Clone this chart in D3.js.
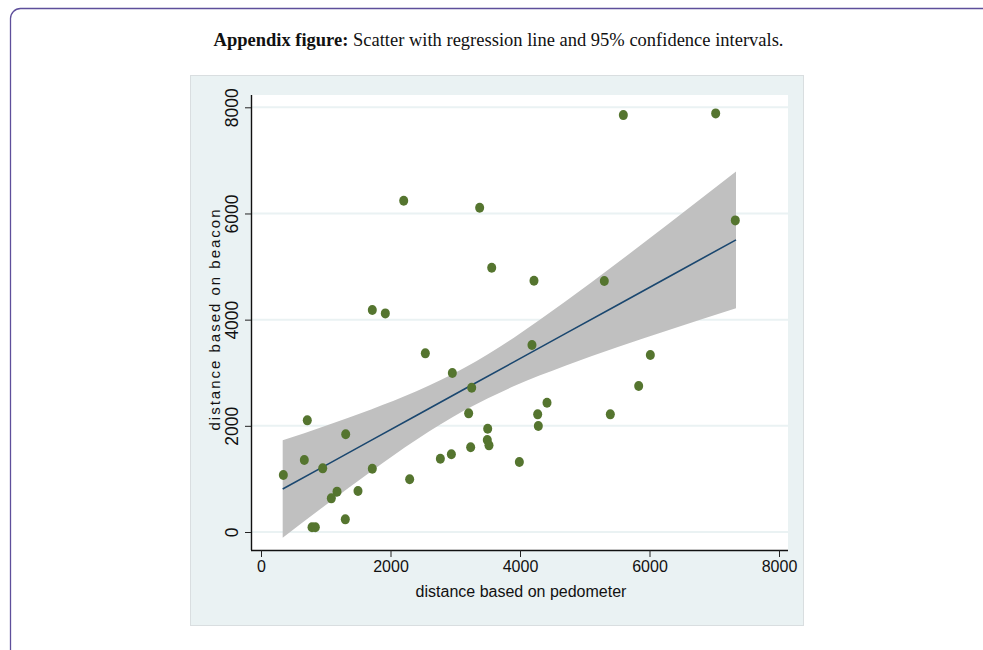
<!DOCTYPE html>
<html>
<head>
<meta charset="utf-8">
<script src="https://cdn.jsdelivr.net/npm/d3@7"></script>
<style>
  body { margin: 0; background: #fff; }
  svg { display: block; }
</style>
</head>
<body>
<div id="chart"></div>
<script>
// points (pedometer, beacon)
var pedometer = [2204, 3377, 3563, 1719, 1920, 5596, 7022, 7325, 4216, 5302,
                 4185, 2538, 2955, 3254, 3207, 3501, 3495, 3521, 3238, 2940,
                 2770, 2296, 1719, 1308, 715, 669, 345, 953, 1174, 1086,
                 1498, 1302, 788, 839, 6013, 5833, 4417, 4273, 5395, 4283, 3990];
var beacon    = [6239, 6107, 4977, 4181, 4118, 7853, 7885, 5870, 4733, 4727,
                 3522, 3365, 2994, 2718, 2235, 1946, 1733, 1632, 1595, 1463,
                 1381, 992, 1193, 1840, 2103, 1356, 1073, 1199, 760, 634,
                 772, 238, 88, 88, 3333, 2750, 2435, 2216, 2216, 1996, 1318];

// fitted line and 95% CI band
var fitX  = [335, 1000, 1700, 2400, 3150, 3900, 4700, 5500, 6300, 7336];
var fitY  = [810, 1255, 1725, 2194, 2697, 3200, 3736, 4272, 4809, 5503];
var fitLo = [-106, 509, 1141, 1737, 2297, 2744, 3132, 3478, 3806, 4216];
var fitHi = [1726, 2001, 2309, 2651, 3097, 3656, 4340, 5066, 5812, 6790];

var xTicks = [0, 2000, 4000, 6000, 8000];
var yTicks = [0, 2000, 4000, 6000, 8000];

var W = 983, H = 650;

var svg = d3.select("#chart").append("svg")
    .attr("width", W)
    .attr("height", H);

// page frame
svg.append("rect")
    .attr("x", 10.5).attr("y", 8.5)
    .attr("width", 1000).attr("height", 700)
    .attr("rx", 10)
    .attr("fill", "none")
    .attr("stroke", "#5e4f9b")
    .attr("stroke-width", 1.3);

// caption
var cap = svg.append("text")
    .attr("x", 498.5).attr("y", 46)
    .attr("text-anchor", "middle")
    .style("font-family", "'Liberation Serif', 'Times New Roman', serif")
    .style("font-size", "18.5px")
    .attr("fill", "#111");
cap.append("tspan").style("font-weight", "bold").text("Appendix figure:");
cap.append("tspan").text(" Scatter with regression line and 95% confidence intervals.");

// graph region
svg.append("rect")
    .attr("x", 190.5).attr("y", 75.5)
    .attr("width", 613).attr("height", 550)
    .attr("fill", "#eaf2f3")
    .attr("stroke", "#d9dee0");

var plot = {left: 251, right: 788, top: 95, bottom: 550};

svg.append("rect")
    .attr("x", plot.left).attr("y", plot.top)
    .attr("width", plot.right - plot.left).attr("height", plot.bottom - plot.top)
    .attr("fill", "#fff");

var x = d3.scaleLinear().domain([0, 8000]).range([261, 779]);
var y = d3.scaleLinear().domain([0, 8000]).range([532, 107.3]);

// gridlines
svg.append("g")
  .selectAll("line")
  .data(yTicks)
  .enter()
  .append("line")
    .attr("x1", plot.left).attr("x2", plot.right)
    .attr("y1", d => y(d)).attr("y2", d => y(d))
    .attr("stroke", "#eaf2f3")
    .attr("stroke-width", 2);

// CI band + fitted line
var fit = fitX.map((v, i) => ({x: v, y: fitY[i], lo: fitLo[i], hi: fitHi[i]}));

svg.append("path")
    .datum(fit)
    .attr("fill", "#c0c0c0")
    .attr("d", d3.area().curve(d3.curveMonotoneX)
        .x(d => x(d.x)).y0(d => y(d.lo)).y1(d => y(d.hi)));

svg.append("path")
    .datum(fit)
    .attr("fill", "none")
    .attr("stroke", "#1a476f")
    .attr("stroke-width", 1.6)
    .attr("d", d3.line().x(d => x(d.x)).y(d => y(d.y)));

// dots
var data = pedometer.map((p, i) => ({x: p, y: beacon[i]}));
svg.append("g")
  .selectAll("ellipse")
  .data(data)
  .enter()
  .append("ellipse")
    .attr("cx", d => x(d.x))
    .attr("cy", d => y(d.y))
    .attr("rx", 4.5)
    .attr("ry", 5)
    .attr("fill", "#55752f");

// axes
var xAxis = svg.append("g")
    .attr("transform", "translate(0," + plot.bottom + ")")
    .call(d3.axisBottom(x).tickValues(xTicks).tickFormat(d3.format("d"))
        .tickSize(7).tickPadding(4).tickSizeOuter(0));
xAxis.select(".domain").attr("d", "M" + plot.left + ",0.5H" + plot.right);
xAxis.selectAll("text")
    .style("font-family", "'Liberation Sans', Arial, sans-serif")
    .style("font-size", "16px")
    .attr("fill", "#111");

var yAxis = svg.append("g")
    .attr("transform", "translate(" + plot.left + ",0)")
    .call(d3.axisLeft(y).tickValues(yTicks).tickFormat(d3.format("d"))
        .tickSize(6).tickSizeOuter(0));
yAxis.select(".domain").attr("d", "M0.5," + plot.top + "V" + plot.bottom);
yAxis.selectAll("text")
    .attr("x", null).attr("dy", null)
    .attr("text-anchor", "middle")
    .attr("transform", "translate(-12.7,0) rotate(-90)")
    .style("font-family", "'Liberation Sans', Arial, sans-serif")
    .style("font-size", "17.5px")
    .attr("fill", "#111");
svg.selectAll(".tick line").attr("stroke", "#222");
svg.selectAll(".domain").attr("stroke", "#111").attr("stroke-width", 1.4);

// axis titles
svg.append("text")
    .attr("x", 521).attr("y", 597)
    .attr("text-anchor", "middle")
    .style("font-family", "'Liberation Sans', Arial, sans-serif")
    .style("font-size", "16px")
    .attr("fill", "#111")
    .text("distance based on pedometer");

svg.append("text")
    .attr("transform", "translate(219.5,320) rotate(-90)")
    .attr("text-anchor", "middle")
    .attr("textLength", 221)
    .attr("lengthAdjust", "spacing")
    .style("font-family", "'Liberation Sans', Arial, sans-serif")
    .style("font-size", "15px")
    .attr("fill", "#111")
    .text("distance based on beacon");
</script>
</body>
</html>
